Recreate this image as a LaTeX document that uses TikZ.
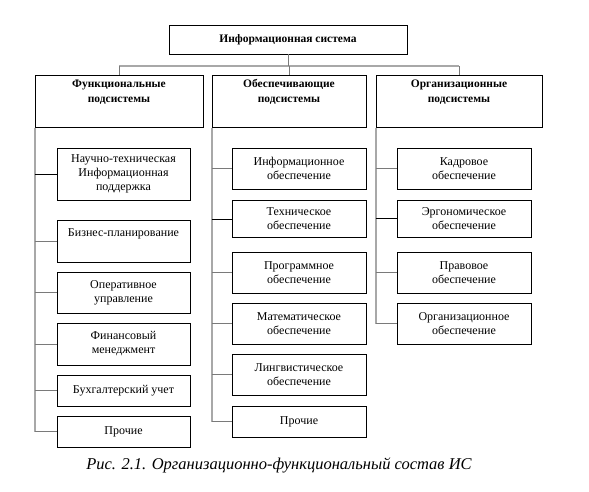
\documentclass[tikz,border=0pt]{standalone}
\usepackage{fontspec}
\setmainfont{Liberation Serif}
\usetikzlibrary{positioning}
\definecolor{sery}{HTML}{A8A8A8}
\definecolor{temn}{HTML}{7A7A7A}

\tikzset{
  box/.style={draw,line width=0.8pt,align=center,inner sep=4pt,
    font=\fontsize{12}{14}\selectfont},
  sysbox/.style={box,font=\bfseries\fontsize{11.5}{14}\selectfont},
  headbox/.style={box,font=\bfseries\fontsize{11.5}{15}\selectfont,
    minimum height=51,text depth=21pt},
  spine/.style={draw=sery,line width=1.8pt},
  stub/.style={draw=temn,line width=1pt},
  stubdark/.style={draw=black,line width=1pt}
}

\begin{document}
\begin{tikzpicture}[x=1pt,y=-1pt]
  \useasboundingbox (0,0) rectangle (589,491);
  % верхний уровень
  \node[sysbox,minimum width=238,minimum height=29] (sys) at (288,39.5) {Информационная система};
  \coordinate (bar) at (288,66);
  % подсистемы
  \node[headbox,minimum width=168] (funk) at (119,101.5) {Функциональные\\подсистемы};
  \node[headbox,minimum width=154] (obes) at (289,101.5) {Обеспечивающие\\подсистемы};
  \node[headbox,minimum width=166] (orgs) at (459,101.5) {Организационные\\подсистемы};
  \draw[spine] (funk.north |- bar) -- (orgs.north |- bar);
  \draw[stub] (sys.south) -- (bar);
  \foreach \nm in {funk,obes,orgs} \draw[stub] (\nm.north |- bar) -- (\nm.north);

  % функциональные
  \node[box,minimum width=133,minimum height=52] (nauch) at (123.5,174) {Научно-техническая\\Информационная\\поддержка};
  \node[box,minimum width=133,minimum height=42,text depth=16pt] (biz) at (123.5,241) {Бизнес-планирование};
  \node[box,minimum width=133,minimum height=41] (oper) at (123.5,292.5) {Оперативное\\управление};
  \node[box,minimum width=133,minimum height=42] (fin) at (123.5,344) {Финансовый\\менеджмент};
  \node[box,minimum width=133,minimum height=31] (buh) at (123.5,390.5) {Бухгалтерский учет};
  \node[box,minimum width=133,minimum height=31] (proch1) at (123.5,431.5) {Прочие};
  \draw[spine] (funk.south west) -- (funk.south west |- proch1.west);
  \foreach \nm in {biz,oper,fin,buh,proch1} \draw[stub] (funk.south west |- \nm.west) -- (\nm.west);

  % обеспечивающие
  \node[box,minimum width=134,minimum height=41] (info) at (299,168.5) {Информационное\\обеспечение};
  \node[box,minimum width=134,minimum height=37] (tech) at (299,219) {Техническое\\обеспечение};
  \node[box,minimum width=134,minimum height=41] (prog) at (299,272.5) {Программное\\обеспечение};
  \node[box,minimum width=134,minimum height=41] (mat) at (299,323.5) {Математическое\\обеспечение};
  \node[box,minimum width=134,minimum height=41] (ling) at (299,374.5) {Лингвистическое\\обеспечение};
  \node[box,minimum width=134,minimum height=31] (proch2) at (299,421.5) {Прочие};
  \draw[spine] (obes.south west) -- (obes.south west |- proch2.west);
  \foreach \nm in {info,prog,mat,ling,proch2} \draw[stub] (obes.south west |- \nm.west) -- (\nm.west);

  % организационные
  \node[box,minimum width=134,minimum height=41] (kadr) at (464,168.5) {Кадровое\\обеспечение};
  \node[box,minimum width=134,minimum height=37] (ergo) at (464,218.5) {Эргономическое\\обеспечение};
  \node[box,minimum width=134,minimum height=41] (prav) at (464,272.5) {Правовое\\обеспечение};
  \node[box,minimum width=134,minimum height=41] (orgob) at (464,323.5) {Организационное\\обеспечение};
  \draw[spine] (orgs.south west) -- (orgs.south west |- orgob.west);
  \foreach \nm in {kadr,prav,orgob} \draw[stub] (orgs.south west |- \nm.west) -- (\nm.west);

  % чёрные отводы
  \draw[stubdark] (funk.south west |- nauch.west) -- (nauch.west);
  \draw[stubdark] (obes.south west |- tech.west) -- (tech.west);
  \draw[stubdark] (orgs.south west |- ergo.west) -- (ergo.west);

  \node[font=\itshape\fontsize{16.5}{18}\selectfont] (podpis) at (279,465) {Рис. 2.1. Организационно-функциональный состав ИС};
\end{tikzpicture}
\end{document}
